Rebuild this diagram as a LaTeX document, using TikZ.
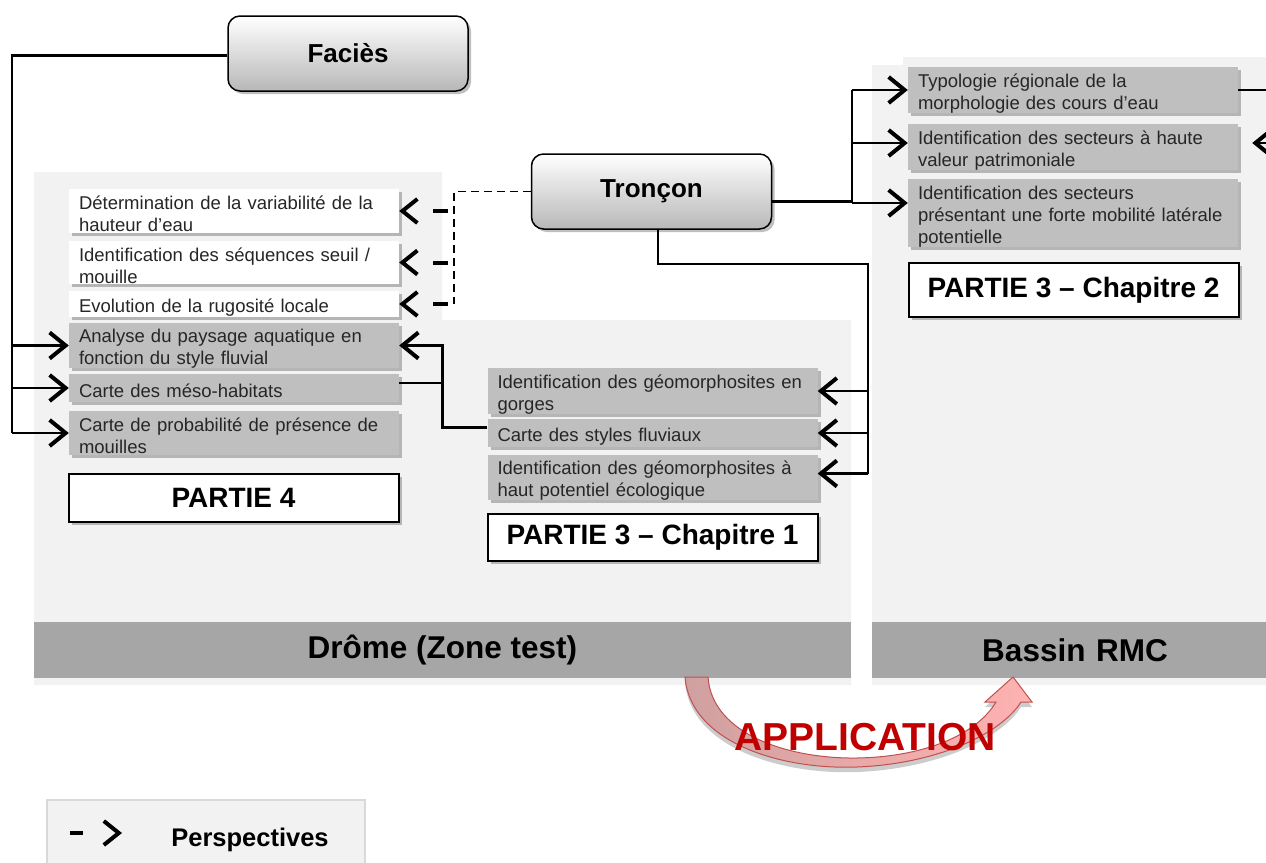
\documentclass[tikz,border=0pt]{standalone}
\usepackage{fontspec}
\setmainfont{Liberation Sans}
\usetikzlibrary{arrows.meta, shadows}

\definecolor{panel}{HTML}{F2F2F2}
\definecolor{bandgray}{HTML}{A6A6A6}
\definecolor{itemgray}{HTML}{BFBFBF}
\definecolor{appred}{HTML}{C00000}
\definecolor{appedge}{HTML}{C0504D}

\begin{document}
\begin{tikzpicture}[x=1pt, y=-1pt,
    shade/.style={drop shadow={shadow xshift=3pt, shadow yshift=-3pt, opacity=.25, fill=black}},
    lvlbox/.style={draw, line width=1.5pt, rounded corners=12pt, top color=white, bottom color=black!28,
      minimum width=240pt, minimum height=75pt, font=\fontsize{26}{30}\selectfont\bfseries, shade},
    wbox/.style={fill=white, text width=310pt, inner xsep=10pt, inner ysep=0pt, align=left,
      text=black!85, font=\fontsize{18.5}{22}\selectfont, shade,
      execute at begin node={\rule{0pt}{20pt}}},
    gbox/.style={wbox, fill=itemgray},
    partbox/.style={draw, line width=2pt, fill=white, minimum width=330pt,
      font=\fontsize{28}{32}\selectfont\bfseries, shade},
    band/.style={fill=bandgray, minimum height=56pt, inner sep=0pt, font=\fontsize{31.5}{36}\selectfont\bfseries},
    link/.style={line width=2.5pt},
    arr/.style={link, -{Straight Barb[length=16pt, width=26pt, line width=4pt]}},
    persp/.style={line width=4pt, dash pattern=on 0pt off 6pt on 15pt off 60pt,
      -{Straight Barb[length=15pt, width=24pt, line width=4pt]}},
    dline/.style={line width=1.8pt, dash pattern=on 8pt off 5pt}
  ]
  \useasboundingbox (0,0) rectangle (1266,862);

  % zones
  \fill[panel] (34,172) -- (442,172) -- (442,320) -- (851,320) -- (851,685) -- (34,685) -- cycle;
  \fill[panel] (872,65) -- (903,65) -- (903,57) -- (1266,57) -- (1266,685) -- (872,685) -- cycle;
  \node (drome) [band, minimum width=817pt] at (442.5,650) {\raisebox{-2pt}{Drôme (Zone test)}};
  \node (rmc) [band, minimum width=394pt, text width=394pt, align=center] at (1069,650) {\hspace*{12pt}Bassin RMC};

  % levels
  \node (facies) [lvlbox] at (348,53.5) {Faciès};
  \node (troncon) [lvlbox] at (651.5,191.5) {Tronçon};

  % partie 4
  \node (p4a) [wbox, minimum height=44pt] at (234,211) {Détermination de la variabilité de la\\hauteur d’eau};
  \node (p4b) [wbox, minimum height=43pt] at (234,262.5) {Identification des séquences seuil /\\mouille};
  \node (p4c) [wbox, minimum height=26pt] at (234,304) {Evolution de la rugosité locale};
  \node (p4d) [gbox, minimum height=43pt] at (234,345.5) {Analyse du paysage aquatique en\\fonction du style fluvial};
  \node (p4e) [gbox, minimum height=28pt] at (234,388) {Carte des méso-habitats};
  \node (p4f) [gbox, minimum height=44pt] at (234,433) {Carte de probabilité de présence de\\mouilles};
  \node (part4) [partbox, minimum height=48pt] at (233.5,498) {PARTIE 4};

  % partie 3 - chapitre 1
  \node (m1) [gbox, minimum height=44pt] at (652.5,391) {Identification des géomorphosites en\\gorges};
  \node (m2) [gbox, minimum height=28pt] at (652.5,433) {Carte des styles fluviaux};
  \node (m3) [gbox, minimum height=45pt] at (652.5,477.5) {Identification des géomorphosites à\\haut potentiel écologique};
  \node (part31) [partbox, minimum height=47pt] at (652.5,537.5) {PARTIE 3 – Chapitre 1};

  % partie 3 - chapitre 2
  \node (r1) [gbox, minimum height=46pt] at (1073,90) {Typologie régionale de la\\morphologie des cours d’eau};
  \node (r2) [gbox, minimum height=46pt] at (1073,147) {Identification des secteurs à haute\\valeur patrimoniale};
  \node (r3) [gbox, minimum height=64pt] at (1073,213) {Identification des secteurs\\présentant une forte mobilité latérale\\potentielle};
  \node (part32) [partbox, minimum height=54pt] at (1073.5,290) {PARTIE 3 – Chapitre 2};

  % facies links
  \coordinate (fx) at (12,0);
  \draw[link] ([yshift=-2pt]facies.west) -| (fx |- p4f.west);
  \foreach \b in {p4d,p4e,p4f}
    \draw[arr] (fx |- \b.west) -- (\b.west);

  % troncon links
  \coordinate (dx) at (454,0);
  \draw[dline] (troncon.west) -| (dx |- p4c.east);
  \foreach \b in {p4a,p4b,p4c}
    \draw[persp] (dx |- \b.east) -- (\b.east);

  \coordinate (rx) at (852,0);
  \coordinate (r2in) at ([yshift=4pt]r2.west);
  \coordinate (r3in) at ([yshift=10pt]r3.west);
  \draw[link] ([yshift=-10pt]troncon.east) -| (rx |- r1.west);
  \foreach \b in {r1.west,r2in,r3in}
    \draw[arr] (rx |- \b) -- (\b);

  \coordinate (mx) at (868,264);
  \coordinate (m3in) at ([yshift=4pt]m3.east);
  \draw[line width=2pt] ([xshift=6pt]troncon.south) |- (mx) -- (mx |- m3in);
  \foreach \b in {m1.east,m2.east,m3in}
    \draw[arr] (mx |- \b) -- (\b);

  % styles fluviaux -> paysage aquatique
  \coordinate (cx) at (442,0);
  \coordinate (m2out) at ([yshift=6pt]m2.west);
  \coordinate (p4eout) at ([yshift=5pt]p4e.east);
  \draw[arr, line width=3pt] (m2out) -| (cx |- p4d.east) -- (p4d.east);
  \draw[line width=1.2pt] (p4eout) -- (cx |- p4eout);

  % links leaving the picture
  \coordinate (ex) at (1295,0);
  \coordinate (r2out) at ([xshift=14pt,yshift=4pt]r2.east);
  \draw[link] (r1.east) -- (ex |- r1.east);
  \draw[arr] (ex |- r2out) -- (r2out);

  % application
  \draw[draw=appedge, line width=1pt,
        left color={rgb,255:red,208;green,160;blue,160}, right color={rgb,255:red,255;green,178;blue,178},
        drop shadow={shadow xshift=0pt, shadow yshift=-5pt, opacity=.2, fill=black}]
    (685,677) .. controls (690,742) and (780,770) .. (857,767)
    .. controls (935,764) and (1000,735) .. (1021,702)
    -- (1032,702) -- (1013,677) -- (985,702) -- (996,702)
    .. controls (975,737) and (920,757) .. (857,758)
    .. controls (790,759) and (712,735) .. (708,677) -- cycle;
  \node (appli) [text=appred, font=\fontsize{39}{44}\selectfont\bfseries] at (865,737) {APPLICATION};

  % legend
  \node (legend) [draw=black!15, line width=1.5pt, fill=panel, minimum width=318pt, minimum height=80pt,
    anchor=north west] at (46,799) {};
  \node (persptxt) [font=\fontsize{25.5}{30}\selectfont\bfseries] at (250,840) {Perspectives};
  \coordinate (la) at (70,833);
  \coordinate (lb) at (122,833);
  \draw[persp, dash pattern=on 13pt off 60pt] (la) -- (lb);

\end{tikzpicture}
\end{document}
